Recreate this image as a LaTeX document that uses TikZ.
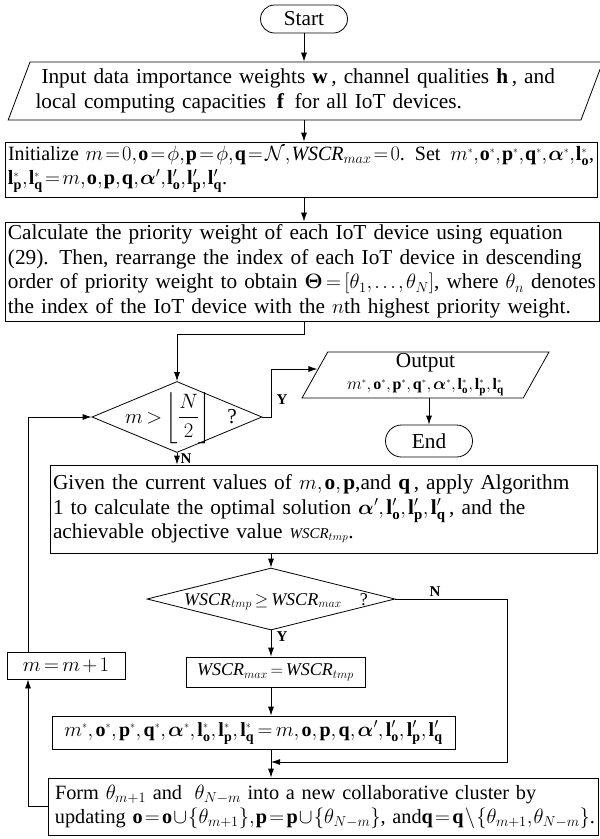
\documentclass[tikz,border=0pt]{standalone}
\usepackage{amsmath,amssymb}
\usepackage{graphicx}
\usepackage{fontspec}
\setmainfont{Liberation Serif}
\usepackage{xcolor}
\usepackage{tikz}
\usetikzlibrary{shapes.geometric,arrows.meta}

\thinmuskip=2mu
\medmuskip=2mu plus 1mu
\thickmuskip=3mu plus 1mu

% small star superscript, as in the figure
\newcommand{\sstar}{^{\scriptscriptstyle *}}
\newcommand{\starset}{m\sstar,\mathbf{o}\sstar,\mathbf{p}\sstar,\mathbf{q}\sstar,\boldsymbol{\alpha}\sstar,\mathbf{l}_{\mathbf{o}}\sstar,\mathbf{l}_{\mathbf{p}}\sstar,\mathbf{l}_{\mathbf{q}}\sstar}
\newcommand{\primeset}{m,\mathbf{o},\mathbf{p},\mathbf{q},\boldsymbol{\alpha}^{\prime},\mathbf{l}_{\mathbf{o}}^{\prime},\mathbf{l}_{\mathbf{p}}^{\prime},\mathbf{l}_{\mathbf{q}}^{\prime}}
\newcommand{\tightmath}{\thinmuskip=1mu\relax\medmuskip=1mu\relax\thickmuskip=2mu\relax}
% squeeze a line sideways only if it is too long
\newsavebox{\linebox}
\newcommand{\fitto}[2]{\sbox{\linebox}{#2}\ifdim\wd\linebox>#1\relax\resizebox{#1}{\height}{\usebox{\linebox}}\else\usebox{\linebox}\fi}

\begin{document}
\begin{tikzpicture}[x=1pt, y=-1pt, >={Latex[length=9pt,width=6pt]}, line width=0.8pt,
    every node/.style={font=\fontsize{21.3}{24.5}\selectfont},
    termbox/.style={rectangle, draw, rounded corners=14pt, inner sep=0pt},
    iobox/.style={trapezium, draw, trapezium left angle=64, trapezium right angle=116,
        trapezium stretches=true, inner sep=0pt},
    procbox/.style={rectangle, draw, inner sep=3pt},
    decbox/.style={diamond, draw, inner sep=0pt},
    yn/.style={font=\fontsize{15}{15}\selectfont\bfseries}]
    \useasboundingbox (0,0) rectangle (600,839);

    % Nodes
    \node (start) [termbox, minimum width=87pt, minimum height=28pt] at (304,19) {Start};
    \node (input) [iobox, minimum width=597pt, minimum height=58pt, text width=540pt, align=left] at (305.5,91)
        {\hspace*{6pt}Input data importance weights $\mathbf{w}$\,, channel qualities $\mathbf{h}$\,, and\\
         local computing capacities\, $\mathbf{f}$\, for all IoT devices.};
    \node (init) [procbox, minimum height=55pt, text width=586pt, align=left,
        font=\fontsize{20.3}{24}\selectfont] at (301,169.5)
        {\tightmath
         \fitto{586pt}{Initialize $m=0,\mathbf{o}=\phi,\mathbf{p}=\phi,\mathbf{q}=\mathcal{N},\mathit{WSCR}_{max}=0$. Set\, $m\sstar,\mathbf{o}\sstar,\mathbf{p}\sstar,\mathbf{q}\sstar,\boldsymbol{\alpha}\sstar,\mathbf{l}_{\mathbf{o}}\sstar$,}\\
         \mbox{$\mathbf{l}_{\mathbf{p}}\sstar,\mathbf{l}_{\mathbf{q}}\sstar=\primeset$.}};
    \node (priority) [procbox, minimum height=99pt, text width=588pt, align=left] at (302,271.5)
        {\fitto{588pt}{Calculate the priority weight of each IoT device using equation}\\
         \fitto{588pt}{(29). Then, rearrange the index of each IoT device in descending}\\
         \fitto{588pt}{order of priority weight to obtain $\boldsymbol{\Theta}=[\theta_{1},\ldots,\theta_{N}]$, where $\theta_{n}$ denotes}\\
         \fitto{588pt}{the index of the IoT device with the $n$th highest priority weight.}};
    \node (check) [decbox, minimum width=170pt, minimum height=71pt] at (177,417)
        {\makebox[0pt]{\raisebox{-6pt}[0pt][0pt]{\hspace*{8pt}$m>\left\lfloor\dfrac{N}{2}\right\rfloor$\ \ \ ?}}};
    \node (output) [iobox, minimum width=247pt, minimum height=46pt, align=center] at (425.5,375)
        {Output\\[-3pt]{\fontsize{16}{16}\selectfont$\starset$}};
    \node (stop) [termbox, rounded corners=16pt, minimum width=87pt, minimum height=32pt] at (429,441) {End};
    \node (solve) [procbox, minimum height=88pt, text width=541pt, align=left] at (323.5,509)
        {\fitto{541pt}{Given the current values of $m,\mathbf{o},\mathbf{p}$,and $\mathbf{q}$\,, apply Algorithm}\\
         \fitto{541pt}{1 to calculate the optimal solution $\boldsymbol{\alpha}^{\prime},\mathbf{l}_{\mathbf{o}}^{\prime},\mathbf{l}_{\mathbf{p}}^{\prime},\mathbf{l}_{\mathbf{q}}^{\prime}$\,, and the}\\
         \mbox{achievable objective value {\fontsize{15}{15}\selectfont$\mathit{WSCR}_{tmp}$}.}};
    \node (compare) [decbox, minimum width=248pt, minimum height=62pt] at (271,599)
        {\makebox[0pt]{\raisebox{-6pt}[0pt][0pt]{\fontsize{18}{18}\selectfont\hspace*{10pt}$\mathit{WSCR}_{tmp}\geq\mathit{WSCR}_{max}$\quad ?}}};
    \node (update) [procbox, minimum width=179pt, minimum height=30pt, font=\fontsize{18}{18}\selectfont] at (275.5,672)
        {$\mathit{WSCR}_{max}=\mathit{WSCR}_{tmp}$};
    \node (record) [procbox, minimum width=403pt, minimum height=33pt, font=\fontsize{20}{20}\selectfont] at (253.5,732.5)
        {$\starset=\primeset$};
    \node (cluster) [procbox, minimum height=57pt, text width=544pt, align=left,
        font=\fontsize{20.3}{24}\selectfont] at (323,806.5)
        {\tightmath
         \fitto{544pt}{\hspace*{4pt}Form $\theta_{m+1}$ and\; $\theta_{N-m}$ into a new collaborative cluster by}\\
         \fitto{544pt}{\hspace*{4pt}updating $\mathbf{o}=\mathbf{o}\cup\{\theta_{m+1}\},\mathbf{p}=\mathbf{p}\cup\{\theta_{N-m}\}$, and$\mathbf{q}=\mathbf{q}\setminus\{\theta_{m+1},\theta_{N-m}\}$.}};
    \node (incr) [procbox, minimum width=118pt, minimum height=27pt] at (66,665.5) {$m=m+1$};
    \coordinate (join) at (271,762);

    % Labels
    \node (ycheck) [yn] at (282,400) {Y};
    \node (ncheck) [yn] at (186,459) {N};
    \node (ncompare) [yn] at (435,592) {N};
    \node (ycompare) [yn] at (282,637) {Y};

    % Arrows
    \draw[->] (start) -- (start |- input.north);
    \draw[->] (input.south -| start) -- (init.north -| start);
    \draw[->] (init.south -| start) -- (priority.north -| start);
    \draw[->] (priority.south -| start) -- ++(0,13) -| (check.north);
    \draw[->] (check.east) -- ++(9,0) |- ([xshift=3pt,yshift=6pt]output.west);
    \draw[->] (stop.north |- output.south) -- (stop.north);
    \draw[->] (check.south) -- (check.south |- solve.north);
    \draw[->] (solve.south -| compare) -- (compare.north);
    \draw[->] (compare.south) -- (compare.south |- update.north);
    \draw[->] (update.south -| compare) -- (record.north -| compare);
    \draw[->] (record.south -| compare) -- (cluster.north -| compare);
    \draw[->] (compare.east) -- ++(112,0) |- (join);
    \draw[->] (cluster.west) -| ([xshift=-38pt]incr.south);
    \draw[->] ([xshift=-38pt]incr.north) |- (check.west);
\end{tikzpicture}
\end{document}
